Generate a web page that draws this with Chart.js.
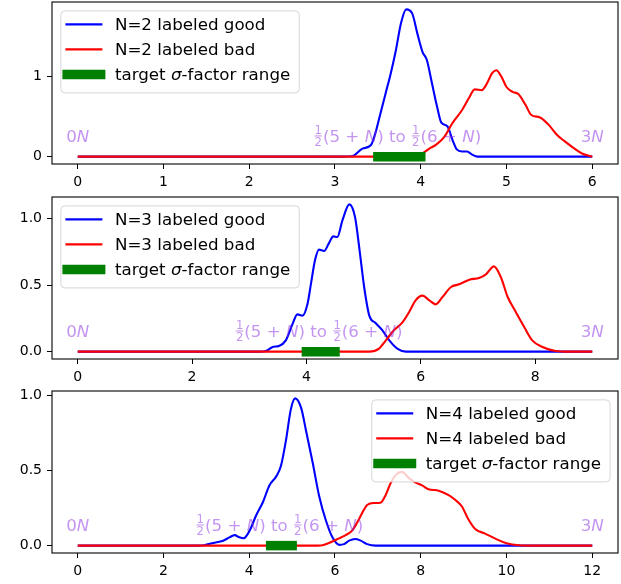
<!DOCTYPE html>
<html>
<head>
<meta charset="utf-8">
<script src="https://cdn.jsdelivr.net/npm/chart.js@4.4.0/dist/chart.umd.min.js"></script>
<style>
    html, body { margin: 0; padding: 0; background: #fff; }
    body { width: 621px; height: 584px; position: relative; overflow: hidden; }
    canvas { position: absolute; left: 0; }
</style>
</head>
<body>
<canvas id="panel2" width="621" height="195" style="top:0px"></canvas>
<canvas id="panel3" width="621" height="195" style="top:195px"></canvas>
<canvas id="panel4" width="621" height="195" style="top:389px"></canvas>
<script>
// sigma-factor densities, as [x, density] pairs
const goodN2 = [[0, 0], [3.1, 0], [3.2, 0.005], [3.32, 0.1], [3.42, 0.145], [3.47, 0.29], [3.53, 0.54], [3.59, 0.79],
    [3.65, 1.04], [3.71, 1.33], [3.77, 1.67], [3.83, 1.84], [3.9, 1.79], [3.96, 1.54], [4.02, 1.31], [4.07, 1.21],
    [4.13, 0.92], [4.19, 0.625], [4.24, 0.425], [4.31, 0.38], [4.37, 0.21], [4.42, 0.09], [4.48, 0.065],
    [4.54, 0.065], [4.6, 0.025], [4.66, 0], [6, 0]];
const badN2 = [[0, 0], [3.95, 0], [4.02, 0.04], [4.1, 0.1], [4.18, 0.15], [4.27, 0.24], [4.37, 0.42], [4.48, 0.58],
    [4.56, 0.73], [4.63, 0.84], [4.71, 0.83], [4.77, 0.91], [4.83, 1.04], [4.88, 1.08], [4.94, 1.0], [5.0, 0.87],
    [5.07, 0.81], [5.14, 0.78], [5.22, 0.65], [5.29, 0.52], [5.39, 0.49], [5.49, 0.4], [5.59, 0.27], [5.68, 0.19],
    [5.78, 0.11], [5.88, 0.04], [6, 0]];

const goodN3 = [[0, 0], [3.2, 0], [3.29, 0.005], [3.41, 0.035], [3.52, 0.043], [3.64, 0.085], [3.76, 0.21],
    [3.84, 0.28], [3.93, 0.27], [4.02, 0.36], [4.08, 0.51], [4.15, 0.685], [4.22, 0.765], [4.31, 0.755],
    [4.39, 0.81], [4.47, 0.865], [4.54, 0.86], [4.63, 0.985], [4.75, 1.105], [4.85, 1.01], [4.93, 0.76],
    [5.01, 0.485], [5.1, 0.27], [5.21, 0.215], [5.33, 0.16], [5.45, 0.085], [5.59, 0.023], [5.74, 0], [9, 0]];
const badN3 = [[0, 0], [5.1, 0], [5.27, 0.023], [5.39, 0.085], [5.53, 0.16], [5.68, 0.22], [5.8, 0.3],
    [5.91, 0.385], [6.03, 0.42], [6.15, 0.385], [6.26, 0.355], [6.38, 0.41], [6.53, 0.485], [6.67, 0.505],
    [6.85, 0.54], [7.02, 0.553], [7.14, 0.58], [7.28, 0.64], [7.4, 0.56], [7.52, 0.41], [7.66, 0.3],
    [7.81, 0.185], [7.95, 0.085], [8.13, 0.035], [8.36, 0.005], [8.6, 0], [9, 0]];

const goodN4 = [[0, 0], [2.8, 0], [2.95, 0.003], [3.16, 0.018], [3.39, 0.033], [3.54, 0.055], [3.66, 0.07],
    [3.77, 0.055], [3.87, 0.049], [4.01, 0.1], [4.16, 0.2], [4.32, 0.29], [4.47, 0.4], [4.63, 0.46], [4.74, 0.53],
    [4.86, 0.705], [4.97, 0.905], [5.07, 0.978], [5.21, 0.915], [5.32, 0.77], [5.48, 0.55], [5.63, 0.33],
    [5.79, 0.165], [5.94, 0.055], [6.1, 0.005], [6.21, 0.01], [6.33, 0.033], [6.47, 0.044], [6.6, 0.033],
    [6.75, 0.01], [6.95, 0], [12, 0]];
const badN4 = [[0, 0], [5.6, 0], [5.71, 0.003], [5.86, 0.018], [6.06, 0.044], [6.25, 0.07], [6.4, 0.1],
    [6.52, 0.155], [6.64, 0.22], [6.75, 0.27], [6.91, 0.283], [7.06, 0.285], [7.18, 0.335], [7.29, 0.41],
    [7.42, 0.47], [7.56, 0.49], [7.72, 0.45], [7.87, 0.42], [8.03, 0.4], [8.18, 0.375], [8.42, 0.365],
    [8.65, 0.335], [8.8, 0.305], [8.96, 0.26], [9.11, 0.175], [9.27, 0.11], [9.5, 0.08], [9.75, 0.045],
    [10.0, 0.015], [10.3, 0.002], [10.6, 0], [12, 0]];

// target range is 1/2(5+N) .. 1/2(6+N)
const targetN2 = [3.5, 4];
const targetN3 = [4, 4.5];
const targetN4 = [4.5, 5];

const xTicksN2 = [0, 1, 2, 3, 4, 5, 6];
const xTicksN3 = [0, 2, 4, 6, 8];
const xTicksN4 = [0, 2, 4, 6, 8, 10, 12];
const yTicksN2 = [0, 1];
const yTickLabelsN2 = ['0', '1'];
const yTicksN3 = [0, 0.5, 1];
const yTickLabelsN3 = ['0.0', '0.5', '1.0'];

const FONT = "'DejaVu Sans', sans-serif";
const NOTE_COLOR = 'rgba(138, 43, 226, 0.5)';

function partWidth(ctx, part, size) {
    if (part.frac) {
        ctx.font = `${size * 0.7}px ${FONT}`;
        return Math.max(ctx.measureText(part.frac[0]).width, ctx.measureText(part.frac[1]).width) + 2;
    }
    ctx.font = `${part.italic ? 'italic ' : ''}${size}px ${FONT}`;
    return ctx.measureText(part.text).width;
}

// draws mixed upright / italic / stacked-fraction text, returns its width
function drawParts(ctx, parts, x, base, size, align) {
    const widths = parts.map((part) => partWidth(ctx, part, size));
    const total = widths.reduce((sum, w) => sum + w, 0);
    let cursor = align === 'center' ? x - total / 2 : x;

    ctx.textBaseline = 'alphabetic';
    parts.forEach((part, i) => {
        if (part.frac) {
            const mid = cursor + widths[i] / 2;
            ctx.font = `${size * 0.7}px ${FONT}`;
            ctx.textAlign = 'center';
            ctx.fillText(part.frac[0], mid, base - size * 0.47);
            ctx.fillText(part.frac[1], mid, base + size * 0.24);
            ctx.fillRect(cursor + 1, base - size * 0.39, widths[i] - 2, 1);
        } else {
            ctx.font = `${part.italic ? 'italic ' : ''}${size}px ${FONT}`;
            ctx.textAlign = 'left';
            ctx.fillText(part.text, cursor, base);
        }
        cursor += widths[i];
    });

    return total;
}

function legendParts(label) {
    const pieces = label.split('σ');
    if (pieces.length === 1) {
        return [{ text: label }];
    }
    return [{ text: pieces[0] }, { text: 'σ', italic: true }, { text: pieces[1] }];
}

function drawLegend(chart, side) {
    const ctx = chart.ctx;
    const area = chart.chartArea;
    const size = 16.7;
    const datasets = chart.data.datasets;

    ctx.save();
    const textWidths = datasets.map((ds) => legendParts(ds.label)
        .reduce((sum, part) => sum + partWidth(ctx, part, size), 0));
    const boxWidth = 54 + Math.max(...textWidths) + 9;
    const boxHeight = 82;
    const boxX = side === 'right' ? area.right - 8.4 - boxWidth : area.left + 8.4;
    const boxY = area.top + 8.4;

    ctx.beginPath();
    ctx.roundRect(boxX + 0.5, boxY + 0.5, boxWidth, boxHeight, 4);
    ctx.fillStyle = 'rgba(255, 255, 255, 0.8)';
    ctx.fill();
    ctx.strokeStyle = 'rgba(204, 204, 204, 0.8)';
    ctx.lineWidth = 1;
    ctx.stroke();

    datasets.forEach((ds, i) => {
        const rowY = boxY + 14 + i * 25;
        ctx.beginPath();
        ctx.strokeStyle = ds.borderColor;
        ctx.lineWidth = ds.borderWidth;
        ctx.lineCap = 'butt';
        if (ds.borderWidth > 5) {
            ctx.moveTo(boxX + 2, rowY);
            ctx.lineTo(boxX + 45, rowY);
        } else {
            ctx.moveTo(boxX + 5, rowY);
            ctx.lineTo(boxX + 42, rowY);
        }
        ctx.stroke();

        ctx.fillStyle = '#000';
        drawParts(ctx, legendParts(ds.label), boxX + 54.5, rowY + 6, size, 'left');
    });
    ctx.restore();
}

const panelDecor = {
    id: 'panelDecor',
    afterDatasetsDraw(chart, args, opts) {
        const ctx = chart.ctx;
        const xScale = chart.scales.x;
        const base = chart.scales.y.getPixelForValue(0) - 14.7;
        const size = 16.7;

        ctx.save();
        ctx.fillStyle = NOTE_COLOR;
        drawParts(ctx, [{ text: '0' }, { text: 'N', italic: true }], xScale.getPixelForValue(0), base, size, 'center');
        drawParts(ctx, [{ text: '3' }, { text: 'N', italic: true }], xScale.getPixelForValue(opts.xEnd), base, size, 'center');
        const mid = (opts.target[0] + opts.target[1]) / 2;
        drawParts(ctx, [
            { frac: ['1', '2'] }, { text: '(5 + ' }, { text: 'N', italic: true }, { text: ') to ' },
            { frac: ['1', '2'] }, { text: '(6 + ' }, { text: 'N', italic: true }, { text: ')' },
        ], xScale.getPixelForValue(mid) - 2, base, size, 'center');
        ctx.restore();

        drawLegend(chart, opts.legendSide);
    },
    afterDraw(chart) {
        const ctx = chart.ctx;
        const area = chart.chartArea;
        ctx.save();
        ctx.strokeStyle = '#000';
        ctx.lineWidth = 1.1;
        ctx.strokeRect(area.left, area.top, area.right - area.left, area.bottom - area.top);
        ctx.restore();
    },
};

function renderPanel(canvasId, n, good, bad, target, xEnd, xTicks, yMin, yMax, yTicks, yTickLabels, legendSide) {
    const toPoints = (rows) => rows.map(([x, y]) => ({ x, y }));

    new Chart(document.getElementById(canvasId), {
        type: 'line',
        data: {
            datasets: [
                {
                    label: `N=${n} labeled good`,
                    data: toPoints(good),
                    borderColor: '#0000ff',
                    borderWidth: 2.1,
                    cubicInterpolationMode: 'monotone',
                    pointRadius: 0,
                    order: 3,
                },
                {
                    label: `N=${n} labeled bad`,
                    data: toPoints(bad),
                    borderColor: '#ff0000',
                    borderWidth: 2.1,
                    cubicInterpolationMode: 'monotone',
                    pointRadius: 0,
                    order: 2,
                },
                {
                    label: 'target σ-factor range',
                    data: target.map((x) => ({ x, y: 0 })),
                    borderColor: '#008000',
                    borderWidth: 9.5,
                    borderCapStyle: 'square',
                    pointRadius: 0,
                    order: 1,
                },
            ],
        },
        options: {
            responsive: false,
            animation: false,
            events: [],
            layout: {
                autoPadding: false,
                padding: { top: 2, right: 3, left: 0, bottom: 0 },
            },
            plugins: {
                legend: { display: false },
                tooltip: { enabled: false },
                panelDecor: { xEnd, target, legendSide },
            },
            scales: {
                x: {
                    type: 'linear',
                    min: -0.05 * xEnd,
                    max: 1.05 * xEnd,
                    afterBuildTicks: (scale) => {
                        scale.ticks = xTicks.map((value) => ({ value }));
                    },
                    afterFit: (scale) => {
                        scale.height = 31;
                        scale.paddingLeft = 0;
                        scale.paddingRight = 0;
                    },
                    border: { display: false },
                    grid: {
                        drawOnChartArea: false,
                        color: '#000',
                        tickLength: 5,
                        tickWidth: 1,
                    },
                    ticks: {
                        color: '#000',
                        padding: 5,
                        maxRotation: 0,
                        font: { family: FONT, size: 14 },
                    },
                },
                y: {
                    min: yMin,
                    max: yMax,
                    afterBuildTicks: (scale) => {
                        scale.ticks = yTicks.map((value) => ({ value }));
                    },
                    afterFit: (scale) => {
                        scale.width = 52;
                        scale.paddingTop = 0;
                        scale.paddingBottom = 0;
                    },
                    border: { display: false },
                    grid: {
                        drawOnChartArea: false,
                        color: '#000',
                        tickLength: 5,
                        tickWidth: 1,
                    },
                    ticks: {
                        color: '#000',
                        padding: 5,
                        font: { family: FONT, size: 14 },
                        callback: (value) => yTickLabels[yTicks.indexOf(value)],
                    },
                },
            },
        },
        plugins: [panelDecor],
    });
}

renderPanel('panel2', 2, goodN2, badN2, targetN2, 6, xTicksN2, -0.092, 1.932, yTicksN2, yTickLabelsN2, 'left');
renderPanel('panel3', 3, goodN3, badN3, targetN3, 9, xTicksN3, -0.055, 1.16, yTicksN3, yTickLabelsN3, 'left');
renderPanel('panel4', 4, goodN4, badN4, targetN4, 12, xTicksN4, -0.049, 1.027, yTicksN3, yTickLabelsN3, 'right');
</script>
</body>
</html>
